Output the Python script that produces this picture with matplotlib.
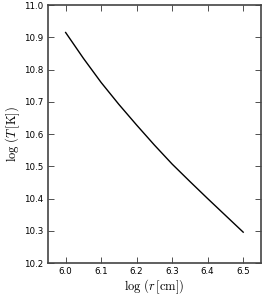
import matplotlib
matplotlib.use('Agg')
import matplotlib.pyplot as plt

plt.rcParams['mathtext.fontset'] = 'cm'

log_r = [6.0, 6.05, 6.1, 6.15, 6.2, 6.25, 6.3, 6.35, 6.4, 6.45, 6.5]
log_T = [10.915, 10.835, 10.760, 10.692, 10.628, 10.566, 10.507, 10.453, 10.400, 10.348, 10.296]

fig = plt.figure(figsize=(2.66, 2.99), dpi=100)
ax = fig.add_axes([0.180, 0.120, 0.801, 0.863])

ax.plot(log_r, log_T, color='black', lw=1.0)

ax.set_xlim(5.95, 6.55)
ax.set_ylim(10.2, 11.0)
ax.set_xticks([6.0, 6.1, 6.2, 6.3, 6.4, 6.5])
ax.set_yticks([10.2, 10.3, 10.4, 10.5, 10.6, 10.7, 10.8, 10.9, 11.0])

ax.tick_params(direction='in', top=True, right=True, length=4, width=0.6,
               labelsize=6.3, color='#333333', pad=3)
for s in ax.spines.values():
    s.set_color('#444444')
    s.set_linewidth(1.2)

ax.set_xlabel(r'$\log\,(r\,[\mathrm{cm}])$', fontsize=9, labelpad=1)
ax.set_ylabel(r'$\log\,(T\,[\mathrm{K}])$', fontsize=9, labelpad=2)

fig.savefig('out.png', dpi=100)
